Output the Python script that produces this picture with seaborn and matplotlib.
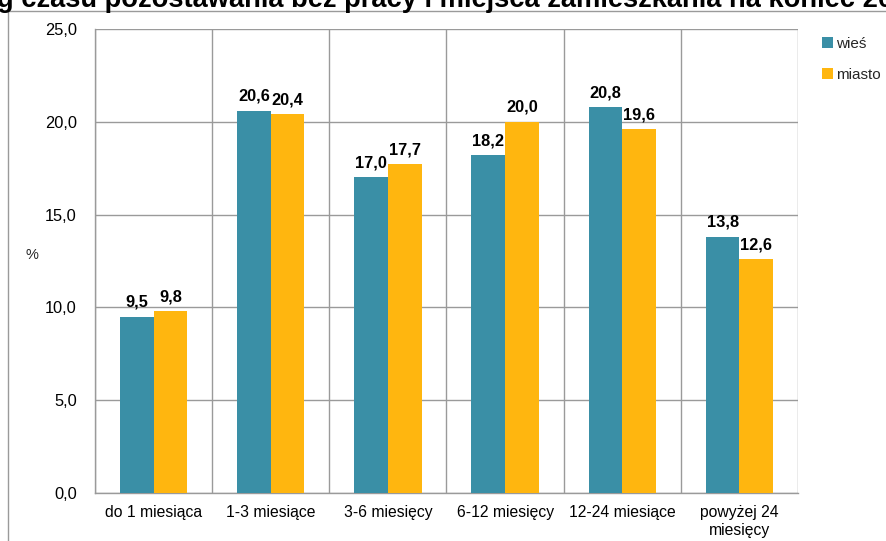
import matplotlib
matplotlib.use("Agg")
import matplotlib.pyplot as plt
import seaborn as sns
import pandas as pd
import numpy as np
from matplotlib.ticker import FuncFormatter, FixedLocator
from matplotlib.lines import Line2D

categories = ["do 1 miesiąca", "1-3 miesiące", "3-6 miesięcy", "6-12 miesięcy",
              "12-24 miesiące", "powyżej 24\nmiesięcy"]
wies = [9.5, 20.6, 17.0, 18.2, 20.8, 13.8]
miasto = [9.8, 20.4, 17.7, 20.0, 19.6, 12.6]
series_names = ["wieś", "miasto"]
title_text = "g czasu pozostawania bez pracy i miejsca zamieszkania na koniec 20"

df = pd.DataFrame({
    "kategoria": categories * 2,
    "wartosc": wies + miasto,
    "seria": [series_names[0]] * len(categories) + [series_names[1]] * len(categories),
})

sns.set_theme(style="white")
plt.rcParams["font.family"] = ["Liberation Sans", "DejaVu Sans"]

W, H = 887, 541
fig = plt.figure(figsize=(W / 100, H / 100), dpi=100)
ax = fig.add_axes([95 / W, (H - 493) / H, (798 - 95) / W, (493 - 29) / H])

grey = "#9a9a9a"
sns.barplot(data=df, x="kategoria", y="wartosc", hue="seria", order=categories,
            hue_order=series_names, palette=["#3a8fa6", "#ffb60f"],
            width=0.575, gap=0, saturation=1, linewidth=0, ax=ax, zorder=3)

ax.set_xlim(-0.5, len(categories) - 0.5)
ax.set_ylim(0, 25)
ax.set_yticks(np.arange(0, 25.1, 5))
ax.yaxis.set_major_formatter(FuncFormatter(lambda v, p: f"{v:.1f}".replace(".", ",")))
ax.xaxis.set_minor_locator(FixedLocator(np.arange(-0.5, len(categories), 1.0)))
ax.tick_params(axis="x", which="major", length=0, pad=9, labelsize=11.3, colors="black")
ax.tick_params(axis="x", which="minor", length=5, width=1, color=grey, direction="out")
ax.tick_params(axis="y", which="major", length=5, width=1, color=grey, direction="out",
               labelsize=11.8, pad=8, colors="black")
ax.grid(True, axis="y", which="major", color=grey, lw=1, zorder=0)
ax.grid(True, axis="x", which="minor", color=grey, lw=1, zorder=0)
ax.grid(False, axis="x", which="major")
for s in ["top", "right"]:
    ax.spines[s].set_visible(False)
for s in ["left", "bottom"]:
    ax.spines[s].set_color(grey)
    ax.spines[s].set_linewidth(1)
ax.set_axisbelow(True)

ax.set_xlabel("")
ax.set_ylabel("%", rotation=0, fontsize=10.5)
ax.yaxis.set_label_coords((32 - 95) / (798 - 95), (493 - 262) / (493 - 29))

for cont in ax.containers:
    ax.bar_label(cont, labels=[f"{v:.1f}".replace(".", ",") for v in cont.datavalues],
                 padding=5, fontsize=11.8, fontweight="bold", color="black")

leg = ax.legend(loc="upper left", bbox_to_anchor=(816 / W, 1 - 31 / H),
                bbox_transform=fig.transFigure, frameon=False, fontsize=11,
                handlelength=0.7, handleheight=0.7, handletextpad=0.2,
                labelspacing=1.1, borderaxespad=0)

# outer chart frame
fig.add_artist(Line2D([8.5 / W, 8.5 / W], [0, 1 - 11 / H], transform=fig.transFigure,
                      color=grey, lw=1))
fig.add_artist(Line2D([8.5 / W, 1], [1 - 11 / H, 1 - 11 / H], transform=fig.transFigure,
                      color=grey, lw=1))

fig.text(-3 / W, 1 - 7 / H, title_text, ha="left", va="baseline",
         fontsize=19.6, fontweight="bold", color="black")

fig.savefig("out.png", dpi=100)
